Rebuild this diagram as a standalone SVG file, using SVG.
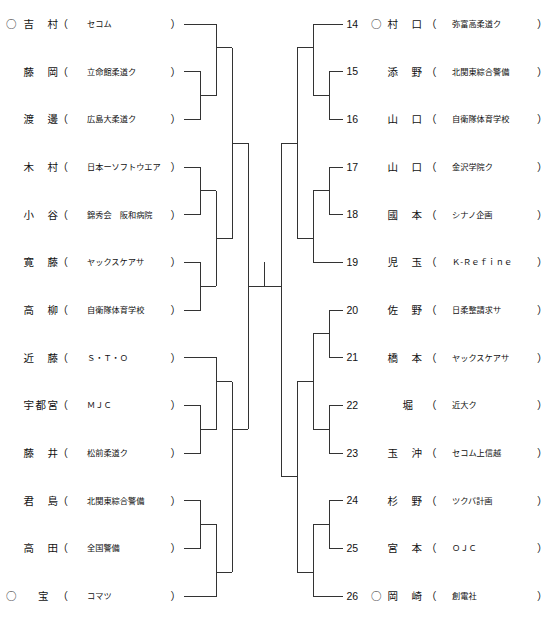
<svg xmlns="http://www.w3.org/2000/svg" width="550" height="621" viewBox="0 0 550 621">
<style>
text{font-family:"Noto Sans CJK JP","Noto Sans",sans-serif;fill:#111}
.nm{font-size:10.5px}
.mk{font-size:10.5px}
.pa{font-size:10.5px}
.af{font-size:8.2px}
.no{font-family:"Liberation Sans",Arial,sans-serif;font-size:10.5px}
#connectors path{fill:none;stroke:#333;stroke-width:1}
</style>
<rect width="550" height="621" fill="#fff"/>
<g id="connectors" shape-rendering="crispEdges">
<path d="M184,24H216V95.5H200M184,71.67H200V119.33H184M216,47.83H232"/>
<path d="M184,167H200V214.67H184M200,190.83H216M184,262.33H200V310H184M200,286.17H216M216,190.83V286.17M216,238.5H232"/>
<path d="M232,47.83V238.5M232,143.17H248M248,143.17V429.17"/>
<path d="M184,357.67H216V429.17H200M184,405.33H200V453H184M216,381.5H232"/>
<path d="M184,500.67H200V548.33H184M200,524.5H216V596H184M216,572.17H232M232,381.5V572.17M232,429.17H248"/>
<path d="M248,286.17H281M264.5,262.33V286.17"/>
<path d="M343,24H313V95.5H329M343,71.67H329V119.33H343M313,47.83H297"/>
<path d="M343,167H329V214.67H343M329,190.83H313V262.33H343M313,238.5H297M297,47.83V238.5M297,143.17H281M281,143.17V476.83"/>
<path d="M343,310H329V357.67H343M329,333.83H313M343,405.33H329V453H343M329,429.17H313M313,333.83V429.17M313,381.5H297"/>
<path d="M343,500.67H329V548.33H343M329,524.5H313V596H343M313,572.17H297M297,381.5V572.17M297,476.83H281"/>
</g>
<g id="p1" transform="translate(0,24)"><text class="mk" x="6" y="4">○</text><text class="nm" x="23.5 47.5" y="4">吉村</text><text class="pa" x="57.5" y="4">（</text><text class="af" x="87" y="3">セコム</text><text class="pa" x="170.5" y="4">）</text></g>
<g id="p2" transform="translate(0,71.67)"><text class="nm" x="23.5 47.5" y="4">藤岡</text><text class="pa" x="57.5" y="4">（</text><text class="af" x="87" y="3">立命館柔道ク</text><text class="pa" x="170.5" y="4">）</text></g>
<g id="p3" transform="translate(0,119.33)"><text class="nm" x="23.5 47.5" y="4">渡邊</text><text class="pa" x="57.5" y="4">（</text><text class="af" x="87" y="3">広島大柔道ク</text><text class="pa" x="170.5" y="4">）</text></g>
<g id="p4" transform="translate(0,167)"><text class="nm" x="23.5 47.5" y="4">木村</text><text class="pa" x="57.5" y="4">（</text><text class="af" x="87" y="3">日本ーソフトウエア</text><text class="pa" x="170.5" y="4">）</text></g>
<g id="p5" transform="translate(0,214.67)"><text class="nm" x="23.5 47.5" y="4">小谷</text><text class="pa" x="57.5" y="4">（</text><text class="af" x="87" y="3">錦秀会　阪和病院</text><text class="pa" x="170.5" y="4">）</text></g>
<g id="p6" transform="translate(0,262.33)"><text class="nm" x="23.5 47.5" y="4">寛藤</text><text class="pa" x="57.5" y="4">（</text><text class="af" x="87" y="3">ヤックスケアサ</text><text class="pa" x="170.5" y="4">）</text></g>
<g id="p7" transform="translate(0,310)"><text class="nm" x="23.5 47.5" y="4">高柳</text><text class="pa" x="57.5" y="4">（</text><text class="af" x="87" y="3">自衛隊体育学校</text><text class="pa" x="170.5" y="4">）</text></g>
<g id="p8" transform="translate(0,357.67)"><text class="nm" x="23.5 47.5" y="4">近藤</text><text class="pa" x="57.5" y="4">（</text><text class="af" x="87" y="3">Ｓ・Ｔ・Ｏ</text><text class="pa" x="170.5" y="4">）</text></g>
<g id="p9" transform="translate(0,405.33)"><text class="nm" x="23.5 35.5 47.5" y="4">宇都宮</text><text class="pa" x="57.5" y="4">（</text><text class="af" x="87" y="3">ＭＪＣ</text><text class="pa" x="170.5" y="4">）</text></g>
<g id="p10" transform="translate(0,453)"><text class="nm" x="23.5 47.5" y="4">藤井</text><text class="pa" x="57.5" y="4">（</text><text class="af" x="87" y="3">松前柔道ク</text><text class="pa" x="170.5" y="4">）</text></g>
<g id="p11" transform="translate(0,500.67)"><text class="nm" x="23.5 47.5" y="4">君島</text><text class="pa" x="57.5" y="4">（</text><text class="af" x="87" y="3">北関東綜合警備</text><text class="pa" x="170.5" y="4">）</text></g>
<g id="p12" transform="translate(0,548.33)"><text class="nm" x="23.5 47.5" y="4">高田</text><text class="pa" x="57.5" y="4">（</text><text class="af" x="87" y="3">全国警備</text><text class="pa" x="170.5" y="4">）</text></g>
<g id="p13" transform="translate(0,596)"><text class="mk" x="6" y="4">○</text><text class="nm" x="38" y="4">宝</text><text class="pa" x="57.5" y="4">（</text><text class="af" x="87" y="3">コマツ</text><text class="pa" x="170.5" y="4">）</text></g>
<g id="p14" transform="translate(0,24)"><text class="no" x="346.5" y="3.8">14</text><text class="mk" x="371" y="4">○</text><text class="nm" x="387.5 411.5" y="4">村口</text><text class="pa" x="426" y="4">（</text><text class="af" x="452" y="3">弥富高柔道ク</text><text class="pa" x="537" y="4">）</text></g>
<g id="p15" transform="translate(0,71.67)"><text class="no" x="346.5" y="3.8">15</text><text class="nm" x="387.5 411.5" y="4">添野</text><text class="pa" x="426" y="4">（</text><text class="af" x="452" y="3">北関東綜合警備</text><text class="pa" x="537" y="4">）</text></g>
<g id="p16" transform="translate(0,119.33)"><text class="no" x="346.5" y="3.8">16</text><text class="nm" x="387.5 411.5" y="4">山口</text><text class="pa" x="426" y="4">（</text><text class="af" x="452" y="3">自衛隊体育学校</text><text class="pa" x="537" y="4">）</text></g>
<g id="p17" transform="translate(0,167)"><text class="no" x="346.5" y="3.8">17</text><text class="nm" x="387.5 411.5" y="4">山口</text><text class="pa" x="426" y="4">（</text><text class="af" x="452" y="3">金沢学院ク</text><text class="pa" x="537" y="4">）</text></g>
<g id="p18" transform="translate(0,214.67)"><text class="no" x="346.5" y="3.8">18</text><text class="nm" x="387.5 411.5" y="4">國本</text><text class="pa" x="426" y="4">（</text><text class="af" x="452" y="3">シナノ企画</text><text class="pa" x="537" y="4">）</text></g>
<g id="p19" transform="translate(0,262.33)"><text class="no" x="346.5" y="3.8">19</text><text class="nm" x="387.5 411.5" y="4">児玉</text><text class="pa" x="426" y="4">（</text><text class="af" x="452" y="3">Ｋ-Ｒｅｆｉｎｅ</text><text class="pa" x="537" y="4">）</text></g>
<g id="p20" transform="translate(0,310)"><text class="no" x="346.5" y="3.8">20</text><text class="nm" x="387.5 411.5" y="4">佐野</text><text class="pa" x="426" y="4">（</text><text class="af" x="452" y="3">日柔整請求サ</text><text class="pa" x="537" y="4">）</text></g>
<g id="p21" transform="translate(0,357.67)"><text class="no" x="346.5" y="3.8">21</text><text class="nm" x="387.5 411.5" y="4">橋本</text><text class="pa" x="426" y="4">（</text><text class="af" x="452" y="3">ヤックスケアサ</text><text class="pa" x="537" y="4">）</text></g>
<g id="p22" transform="translate(0,405.33)"><text class="no" x="346.5" y="3.8">22</text><text class="nm" x="402.5" y="4">堀</text><text class="pa" x="426" y="4">（</text><text class="af" x="452" y="3">近大ク</text><text class="pa" x="537" y="4">）</text></g>
<g id="p23" transform="translate(0,453)"><text class="no" x="346.5" y="3.8">23</text><text class="nm" x="387.5 411.5" y="4">玉沖</text><text class="pa" x="426" y="4">（</text><text class="af" x="452" y="3">セコム上信越</text><text class="pa" x="537" y="4">）</text></g>
<g id="p24" transform="translate(0,500.67)"><text class="no" x="346.5" y="3.8">24</text><text class="nm" x="387.5 411.5" y="4">杉野</text><text class="pa" x="426" y="4">（</text><text class="af" x="452" y="3">ツクバ計画</text><text class="pa" x="537" y="4">）</text></g>
<g id="p25" transform="translate(0,548.33)"><text class="no" x="346.5" y="3.8">25</text><text class="nm" x="387.5 411.5" y="4">宮本</text><text class="pa" x="426" y="4">（</text><text class="af" x="452" y="3">ＯＪＣ</text><text class="pa" x="537" y="4">）</text></g>
<g id="p26" transform="translate(0,596)"><text class="no" x="346.5" y="3.8">26</text><text class="mk" x="371" y="4">○</text><text class="nm" x="387.5 411.5" y="4">岡崎</text><text class="pa" x="426" y="4">（</text><text class="af" x="452" y="3">創電社</text><text class="pa" x="537" y="4">）</text></g>
</svg>
